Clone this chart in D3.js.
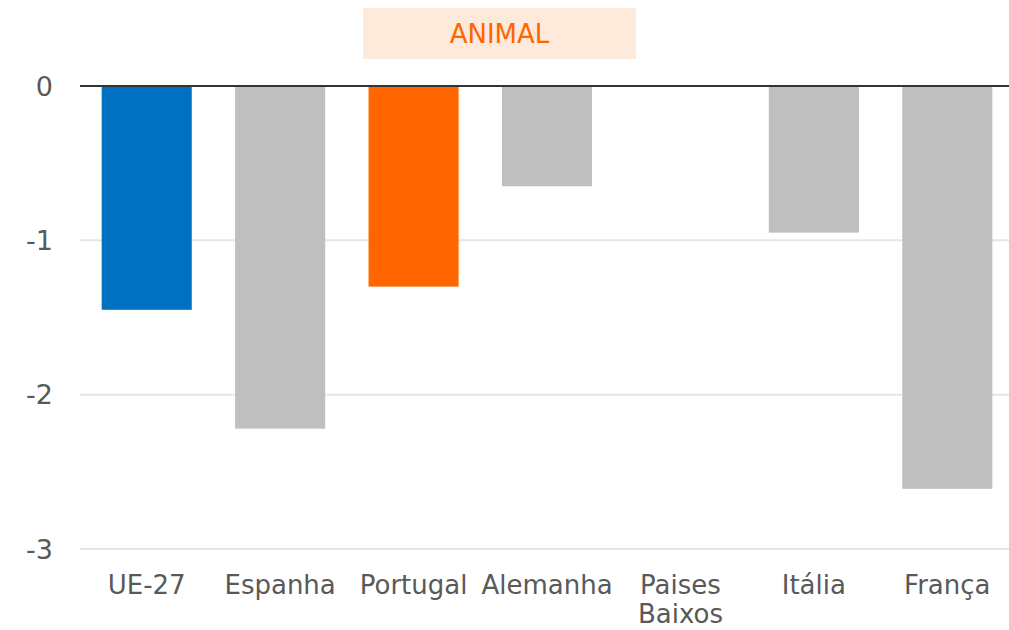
<!DOCTYPE html>
<html>
<head>
<meta charset="utf-8">
<script src="https://cdn.jsdelivr.net/npm/d3@7"></script>
<style>
  body { margin: 0; background: #fff; }
  svg text { font-family: "DejaVu Sans", Verdana, sans-serif; }
</style>
</head>
<body>
<div id="chart"></div>
<script>
var categories = ["UE-27", "Espanha", "Portugal", "Alemanha", "Paises Baixos", "Itália", "França"];
var values = [-1.45, -2.22, -1.30, -0.65, 0, -0.95, -2.61];
var barColors = ["#0070C0", "#BFBFBF", "#FF6600", "#BFBFBF", "#BFBFBF", "#BFBFBF", "#BFBFBF"];
var yTicks = [0, -1, -2, -3];
var title = "ANIMAL";

var width = 1009, height = 630;
var margin = { top: 86, right: -5, bottom: 81, left: 80 };

var svg = d3.select("#chart")
    .append("svg")
    .attr("width", width)
    .attr("height", height);

var x = d3.scaleBand()
    .domain(categories)
    .range([margin.left, width - margin.right])
    .paddingInner(0.325)
    .paddingOuter(0.1625);

var y = d3.scaleLinear()
    .domain([0, -3])
    .range([margin.top, height - margin.bottom]);

// gridlines
svg.append("g")
    .selectAll("line")
    .data(yTicks.filter(function (d) { return d !== 0; }))
    .enter()
    .append("line")
    .attr("x1", 80)
    .attr("x2", 1010)
    .attr("y1", function (d) { return y(d); })
    .attr("y2", function (d) { return y(d); })
    .attr("stroke", "#E6E6E6")
    .attr("stroke-width", 2);

// y tick labels
svg.append("g")
    .selectAll("text")
    .data(yTicks)
    .enter()
    .append("text")
    .attr("x", 53)
    .attr("y", function (d) { return y(d); })
    .attr("dy", "0.36em")
    .attr("text-anchor", "end")
    .attr("fill", "#595959")
    .style("font-size", "27px")
    .text(function (d) { return d; });

// bars
svg.append("g")
    .selectAll("rect")
    .data(values)
    .enter()
    .append("rect")
    .attr("x", function (d, i) { return x(categories[i]); })
    .attr("y", y(0))
    .attr("width", x.bandwidth())
    .attr("height", function (d) { return y(d) - y(0); })
    .attr("fill", function (d, i) { return barColors[i]; });

// zero line
svg.append("line")
    .attr("x1", 80)
    .attr("x2", 1010)
    .attr("y1", y(0))
    .attr("y2", y(0))
    .attr("stroke", "#333")
    .attr("stroke-width", 2);

// category labels, wrapped on spaces
var labels = svg.append("g")
    .selectAll("text")
    .data(categories)
    .enter()
    .append("text")
    .attr("x", function (d) { return x(d) + x.bandwidth() / 2; })
    .attr("y", 594)
    .attr("text-anchor", "middle")
    .attr("fill", "#595959")
    .style("font-size", "26px");

labels.each(function (d) {
    var words = d.split(" ");
    var t = d3.select(this);
    words.forEach(function (w, i) {
        t.append("tspan")
            .attr("x", x(d) + x.bandwidth() / 2)
            .attr("dy", i === 0 ? 0 : 29)
            .text(w);
    });
});

// title box
svg.append("rect")
    .attr("x", 363)
    .attr("y", 8)
    .attr("width", 273)
    .attr("height", 51)
    .attr("fill", "#FDEADA");

svg.append("text")
    .attr("x", 499.5)
    .attr("y", 43)
    .attr("text-anchor", "middle")
    .attr("fill", "#FF6600")
    .style("font-size", "26px")
    .text(title);
</script>
</body>
</html>
